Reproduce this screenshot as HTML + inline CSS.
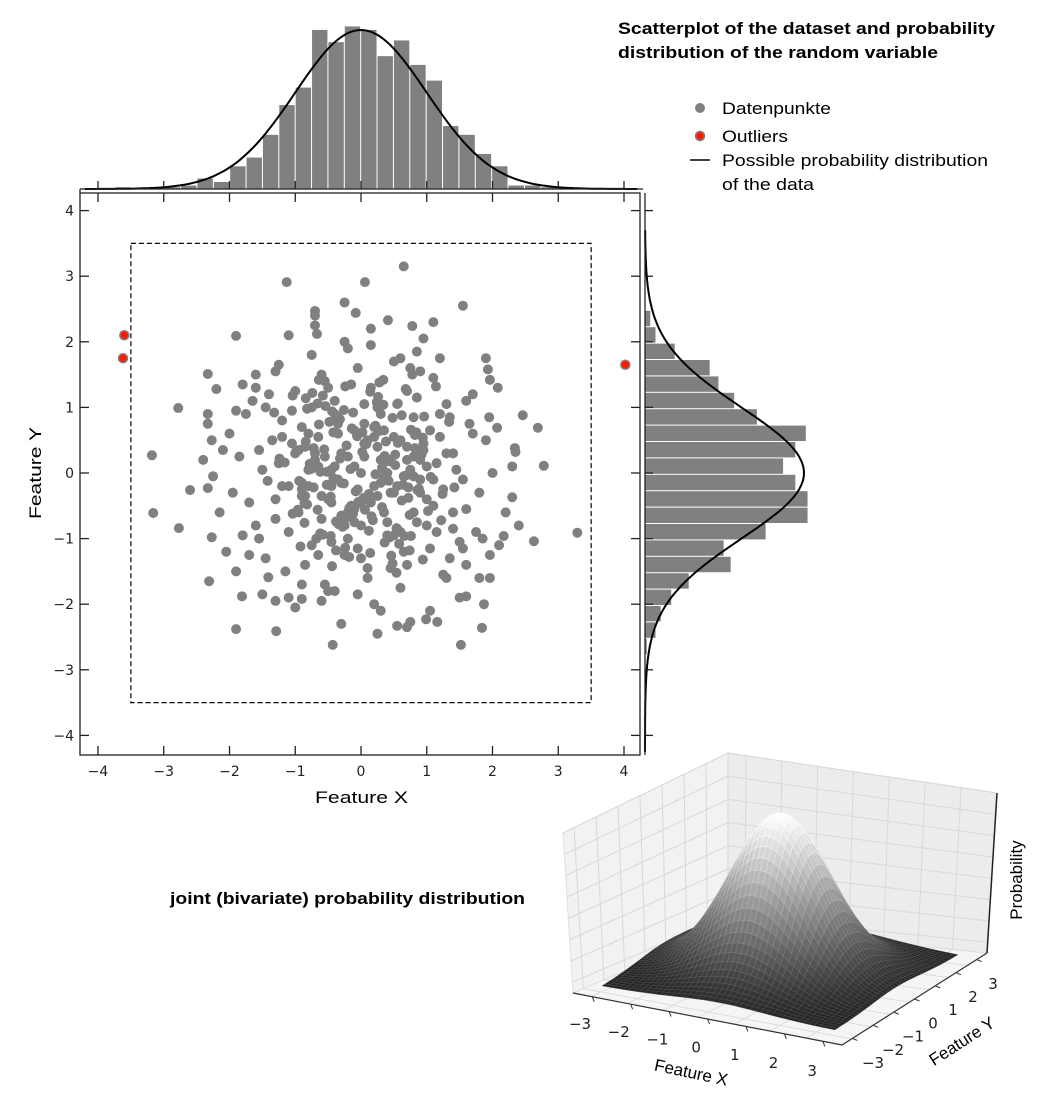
<!DOCTYPE html>
<html><head><meta charset="utf-8">
<style>
html,body{margin:0;padding:0;background:#fff;}
svg{display:block;font-family:"DejaVu Sans","Liberation Sans",sans-serif;}
.b{font-family:"Liberation Sans",sans-serif;font-weight:bold;font-size:17px;}
.h{font-family:"Liberation Sans",sans-serif;}
</style></head>
<body>
<svg id="fig" width="1052" height="1097" viewBox="0 0 1052 1097">
<g id="scatter"></g>
<g id="tophist"></g>
<g id="righthist"></g>
<g id="surf3d"></g>
<text class="b" x="618" y="34" textLength="377" lengthAdjust="spacingAndGlyphs">Scatterplot of the dataset and probability</text>
<text class="b" x="618" y="58" textLength="320" lengthAdjust="spacingAndGlyphs">distribution of the random variable</text>
<g font-size="17" class="h">
<circle cx="700" cy="108" r="5" fill="#808080"/>
<text x="722" y="114" textLength="109" lengthAdjust="spacingAndGlyphs">Datenpunkte</text>
<circle cx="700" cy="136" r="4.5" fill="#ff1a00" stroke="#808080" stroke-width="1.5"/>
<text x="722" y="142" textLength="66" lengthAdjust="spacingAndGlyphs">Outliers</text>
<line x1="690" y1="160" x2="710" y2="160" stroke="#000" stroke-width="1.5"/>
<text x="722" y="166" textLength="266" lengthAdjust="spacingAndGlyphs">Possible probability distribution</text>
<text x="722" y="190" textLength="92" lengthAdjust="spacingAndGlyphs">of the data</text>
</g>
<text class="b" x="170" y="904" textLength="355" lengthAdjust="spacingAndGlyphs">joint (bivariate) probability distribution</text>
</svg>
<script>
const NS="http://www.w3.org/2000/svg";
// ---- data ----
const xTicks=[-4,-3,-2,-1,0,1,2,3,4];
const yTicks=[-4,-3,-2,-1,0,1,2,3,4];
const histXStart=-3.74, histXWidth=0.249;
const histXCounts=[1,0,0,1,2,6,4,13,18,31,48,58,91,84,93,91,76,85,71,62,36,31,20,13,2,2,1];
const histYTop=2.48, histYWidth=0.25;
const histYCounts=[3,6,17,37,42,51,64,92,86,79,86,93,93,69,45,49,25,15,9,6,1];
const outlierX=[-3.6,-3.62,4.02];
const outlierY=[2.1,1.75,1.65];
const ptsX=[-1.13,0.06,0.65,1.55,-0.7,-0.08,0.41,0.78,-1.9,-0.67,-3.18,-2.78,-2.33,-2.33,-2.27,-2.33,-2.2,-3.16,-2.77,-2.6,-2.33,-2.27,-2.31,-2.05,-1.9,-1.29,-0.43,1.52,1.84,3.29,2.63,2.78,2.69,2.46,2.34,2.35,2.08,1.96,1.93,2.07,1.96,1.87,1.96,1.6,2.17,2.3,0.55,0.75,0.99,-1.41,-1.81,-0.9,1.16,
-0.1,0.2,-0.3,0.4,-0.5,0.6,-0.7,0.8,-0.9,1.0,0.0,0.3,-0.2,0.5,-0.4,0.7,-0.6,0.9,-0.8,1.1,
1.3,-1.2,0.15,-0.25,1.4,-1.35,0.45,-0.55,1.2,-1.1,0.05,-0.15,0.85,-0.95,1.55,-1.5,0.25,-0.35,0.65,-0.75,
-1.6,1.65,-0.05,0.1,-1.0,1.05,-1.45,1.5,0.35,-0.45,0.75,-0.85,1.25,-1.25,0.55,-0.65,0.95,-1.05,0.2,-0.3,
1.8,-1.85,0.6,-0.4,1.1,-1.15,0.3,-0.2,1.7,-1.7,0.0,0.5,-0.6,0.9,-1.3,1.35,-0.9,0.15,-0.1,0.8,
-0.35,0.45,-1.55,1.6,-0.75,0.7,-0.15,0.25,1.45,-1.4,0.85,-0.95,0.05,-0.05,1.9,-1.95,0.4,-0.5,1.0,-1.0,
0.65,-0.65,1.15,-1.2,0.25,-0.25,1.75,-1.75,0.55,-0.45,1.05,-0.85,0.35,-0.35,1.35,-1.55,0.75,-0.55,0.1,-0.15,
2.0,-2.0,0.2,-0.2,1.25,-1.3,0.6,-0.6,1.6,-1.6,0.9,-0.9,0.35,-0.45,1.85,-1.8,0.05,-0.1,0.45,-0.7,
0.3,-0.3,0.8,-0.8,0.1,-0.1,0.55,-0.55,1.15,-1.05,0.0,0.2,-0.4,0.6,-0.2,0.4,-0.6,0.7,-0.9,1.0,
-1.25,1.3,-0.25,0.3,-1.65,1.55,-0.75,0.85,-0.05,0.15,-1.1,1.2,-0.45,0.5,-0.85,0.95,-1.45,1.4,-0.65,0.7,
2.2,-2.15,1.95,-1.9,2.1,-2.1,1.05,-1.0,0.15,-0.3,0.95,-0.7,1.5,-1.5,0.4,-0.4,2.3,-2.25,0.8,-0.8,
0.12,-0.22,0.32,-0.42,0.52,-0.12,0.22,-0.32,0.42,-0.52,0.02,0.62,-0.62,0.72,-0.72,0.82,-0.82,0.18,-0.28,0.38,
-0.48,0.58,-0.58,0.68,-0.18,0.28,-0.38,0.48,-0.68,0.78,1.1,-1.1,1.2,-1.2,0.9,-0.9,1.4,-1.3,0.05,-0.05,
1.7,-1.7,1.6,-1.6,2.4,-2.4,1.3,-1.3,0.7,-0.7,1.9,-1.9,0.25,-0.25,1.1,-1.1,0.5,-0.5,1.8,-1.8,
0.08,-0.18,0.28,-0.38,0.48,-0.58,0.68,-0.78,0.88,-0.98,0.14,-0.24,0.34,-0.44,0.54,-0.64,0.74,-0.84,0.94,-0.04,
-1.16,1.06,-0.26,0.36,-0.46,0.56,-0.66,0.76,-0.86,0.96,-0.16,0.06,-0.36,0.26,-0.56,0.46,-0.76,0.66,-0.96,0.86,
1.22,-1.32,1.42,-1.42,0.02,0.12,-0.08,0.22,-0.12,0.32,-0.22,0.42,-0.32,0.52,-0.42,0.62,-0.52,0.72,-0.62,0.82,
-0.72,0.92,-0.82,1.02,-0.92,0.04,-0.14,0.24,-0.34,0.44,-0.54,0.64,-0.74,0.84,-0.94,1.24,-1.04,1.34,-1.24,0.14,
-0.24,0.34,-0.44,0.54,-0.64,0.74,-0.84,0.94,-1.04,1.14,0.0,-0.06,0.16,-0.26,0.36,-0.46,0.56,-0.66,0.76,-0.86];
const ptsY=[2.91,2.91,3.15,2.55,2.47,2.44,2.33,2.24,2.09,2.12,0.27,0.99,0.9,0.75,0.5,1.51,1.28,-0.61,-0.84,-0.26,-0.23,-0.98,-1.65,-1.2,-2.38,-2.41,-2.62,-2.62,-2.36,-0.91,-1.04,0.11,0.69,0.88,0.38,0.32,1.3,1.42,1.58,0.69,-1.6,-2.0,-1.25,-1.88,-0.96,-0.37,-2.33,-2.27,-2.23,-1.59,-1.88,-1.92,-2.27,
0.1,-0.2,0.3,0.0,-0.4,0.5,0.2,-0.6,0.7,0.1,-0.8,0.9,-1.0,-0.3,1.1,0.4,-0.7,-0.1,0.6,-0.5,
0.3,-0.2,1.3,-1.25,-0.6,0.5,-1.45,1.4,0.9,-0.9,0.45,-0.55,1.15,0.35,-0.1,0.05,-0.35,0.75,-1.2,1.0,
-0.8,0.75,1.6,-1.6,1.25,-1.15,1.0,-1.05,0.65,-0.2,0.05,-0.35,-0.25,0.15,-0.85,0.55,0.45,0.95,0.55,-0.65,
-0.3,0.25,1.75,-1.8,1.45,-1.5,-0.15,0.25,0.6,-0.45,-1.3,-0.95,1.5,0.2,-0.7,-1.3,-0.25,-0.45,0.65,0.85,
-0.1,0.2,0.35,-0.55,-1.1,1.25,-0.5,0.4,0.05,1.2,-0.75,-0.6,0.25,-0.25,0.5,-0.3,-0.95,1.3,-0.4,0.3,
-0.05,0.1,-0.9,0.8,1.0,-0.8,-0.9,0.9,1.05,-1.05,0.65,-1.4,-0.6,0.6,0.85,-1.0,1.6,-1.7,-1.45,1.35,
0.0,0.6,-2.0,1.9,-1.55,1.55,-1.75,-1.95,1.1,1.3,1.55,-1.7,-0.05,0.05,-1.0,-0.95,0.75,-0.75,-0.3,0.3,
0.2,-0.15,0.25,-0.2,0.5,-0.55,-0.2,0.25,0.15,0.45,0.0,0.7,0.9,-0.9,-0.6,-0.75,-0.35,0.2,-0.15,-0.8,
1.65,-1.6,2.0,-2.1,1.1,-1.15,1.8,1.85,-1.85,1.95,-1.9,1.75,-0.45,0.55,0.4,0.35,-1.3,-0.85,-1.25,-1.4,
-0.6,-0.6,0.85,0.95,-1.1,0.35,-2.1,-2.05,2.2,-2.3,2.05,2.25,-1.9,-1.85,-0.1,0.1,0.1,-0.05,-0.05,0.05,
-0.32,0.42,-0.52,0.62,0.12,-0.62,0.72,0.82,-0.12,0.02,0.32,-0.42,-0.92,-0.22,0.38,0.58,-0.48,-0.72,-0.82,0.48,
0.78,-1.08,1.18,1.28,-1.28,1.38,-1.18,-1.38,-1.0,1.5,-0.1,-0.2,0.55,0.55,-0.3,-0.35,0.3,-0.4,1.05,-1.15,
1.2,-1.25,-1.4,1.5,-0.8,0.2,1.05,-1.95,-2.35,2.4,1.75,-1.5,-2.45,2.6,2.3,2.1,1.7,-1.8,-1.6,1.35,
0.44,-0.54,0.64,-0.74,0.84,-0.94,-0.04,0.14,-0.24,0.34,1.24,-1.14,1.04,0.94,-0.84,0.74,-0.64,1.14,0.54,-0.44,
0.16,-0.06,-0.16,0.26,-0.36,0.46,-0.56,0.66,-0.76,0.86,0.06,-0.56,0.86,1.16,0.36,-1.26,0.06,-0.96,-0.56,-0.26,
-0.72,0.92,-0.22,-0.12,0.62,-0.88,-0.28,-0.02,0.92,0.08,-0.68,0.18,0.22,0.28,-0.08,0.88,-0.18,-0.38,0.02,0.38,
-0.22,0.28,0.98,-0.58,-1.12,-0.38,0.68,1.08,-0.78,-0.98,1.02,-0.18,1.22,0.62,-0.12,-0.32,-0.62,0.78,0.22,-1.22,
1.32,1.42,-1.42,-1.52,1.42,-1.18,0.48,-1.32,1.18,1.32,-0.46,0.56,-0.66,0.96,-1.06,-0.96,1.06,1.06,-0.96,-0.46];
const surfTicks=[-3,-2,-1,0,1,2,3];

// ---- helpers ----
function mk(tag,parent,attrs){const e=document.createElementNS(NS,tag);for(const k in attrs)e.setAttribute(k,attrs[k]);parent.appendChild(e);return e;}
const sx=v=>361+v*65.75, sy=v=>473-v*65.6;
const pdf=v=>Math.exp(-v*v/2)/Math.sqrt(2*Math.PI);
const cntPx=1.748, pdfPx=398.5;
const fmt=v=>v<0?"\u2212"+(-v):""+v;

// ---- scatter ----
const sc=document.getElementById('scatter');
let r=mk('rect',sc,{x:80,y:193,width:560,height:562,fill:'none',stroke:'#222','stroke-width':1.3});


let d=mk('rect',sc,{x:sx(-3.5),y:sy(3.5),width:sx(3.5)-sx(-3.5),height:sy(-3.5)-sy(3.5),fill:'none',stroke:'#000','stroke-width':1.2,'stroke-dasharray':'5,3'});


xTicks.forEach(t=>{
  const x=sx(t);
  let l=mk('line',sc,{x1:x,y1:755,x2:x,y2:746,stroke:'#222','stroke-width':1.3});
  
  
  mk('line',sc,{x1:x,y1:193,x2:x,y2:202,stroke:'#222','stroke-width':1.3});
  let tx=mk('text',sc,{x:x,y:776,'text-anchor':'middle','font-size':14,fill:'#222'});
  tx.textContent=fmt(t);
  
  
});
yTicks.forEach(t=>{
  const y=sy(t);
  let l=mk('line',sc,{x1:80,y1:y,x2:89,y2:y,stroke:'#222','stroke-width':1.3});
  
  
  mk('line',sc,{x1:631,y1:y,x2:640,y2:y,stroke:'#222','stroke-width':1.3});
  let tx=mk('text',sc,{x:74,y:y+5,'text-anchor':'end','font-size':14,fill:'#222'});
  tx.textContent=fmt(t);
  
  
});
let xl=mk('text',sc,{x:315,y:803,'font-size':17,'class':'h',textLength:93,lengthAdjust:'spacingAndGlyphs'});
xl.textContent='Feature X';


let yl=mk('text',sc,{x:-46,y:0,'font-size':17,'class':'h',textLength:92,lengthAdjust:'spacingAndGlyphs',transform:'translate(41,473) rotate(-90)'});
yl.textContent='Feature Y';


for(let i=0;i<ptsX.length;i++){
  let c=mk('circle',sc,{cx:sx(ptsX[i]),cy:sy(ptsY[i]),r:5,fill:'#808080'});
  
  
}
for(let i=0;i<outlierX.length;i++){
  let c=mk('circle',sc,{cx:sx(outlierX[i]),cy:sy(outlierY[i]),r:4.5,fill:'#ff1a00',stroke:'#808080','stroke-width':1.5});
  
  
}

// ---- top histogram ----
const th=document.getElementById('tophist');
const base=189;
histXCounts.forEach((c,i)=>{
  const x0=sx(histXStart+i*histXWidth), x1=sx(histXStart+(i+1)*histXWidth);
  const h=c*cntPx;
  let b=mk('rect',th,{x:x0+0.5,y:base-h,width:x1-x0-1,height:h,fill:'#808080'});
  
  
});
let pth='';
for(let v=-4.2;v<=4.21;v+=0.05){pth+=(pth?'L':'M')+sx(v).toFixed(1)+','+(base-pdf(v)*pdfPx).toFixed(1);}
let cv=mk('path',th,{d:pth,fill:'none',stroke:'#000','stroke-width':2});


mk('line',th,{x1:80,y1:base,x2:643,y2:base,stroke:'#222','stroke-width':1.3});
xTicks.forEach(t=>{mk('line',th,{x1:sx(t),y1:base,x2:sx(t),y2:base-8,stroke:'#222','stroke-width':1.3});});
mk('line',th,{x1:80,y1:base,x2:80,y2:193,stroke:'#222','stroke-width':1.3});

// ---- right histogram ----
const rh=document.getElementById('righthist');
const rb=645;
histYCounts.forEach((c,i)=>{
  const y0=sy(histYTop-i*histYWidth), y1=sy(histYTop-(i+1)*histYWidth);
  const w=c*cntPx;
  let b=mk('rect',rh,{x:rb,y:y0+0.5,width:w,height:y1-y0-1,fill:'#808080'});
  
  
});
let p2='';
for(let v=3.7;v>=-4.25;v-=0.05){p2+=(p2?'L':'M')+(rb+pdf(v)*pdfPx).toFixed(1)+','+sy(v).toFixed(1);}
let cv2=mk('path',rh,{d:p2,fill:'none',stroke:'#000','stroke-width':2});


mk('line',rh,{x1:rb,y1:193,x2:rb,y2:755,stroke:'#222','stroke-width':1.3});
yTicks.forEach(t=>{mk('line',rh,{x1:rb,y1:sy(t),x2:rb+8,y2:sy(t),stroke:'#222','stroke-width':1.3});});

// ---- 3D surface ----
const s3=document.getElementById('surf3d');
const L=[573,993],Bk=[728,927],F=[842,1045],R=[987,953];
const LT=[563,833],BT=[728,753],RT=[997,793];
const poly=(pts)=>pts.map(p=>p[0]+','+p[1]).join(' ');
const lerp=(a,b,t)=>[a[0]+(b[0]-a[0])*t,a[1]+(b[1]-a[1])*t];
let lp=mk('polygon',s3,{points:poly([L,Bk,BT,LT]),fill:'#f2f2f2',stroke:'#e0e0e0'});


let rp=mk('polygon',s3,{points:poly([Bk,R,RT,BT]),fill:'#ececec',stroke:'#e0e0e0'});


let fp=mk('polygon',s3,{points:poly([L,F,R,Bk]),fill:'#f5f5f5',stroke:'#e0e0e0'});


for(let i=0;i<=7;i++){
  const t=(i+0.5)/7.5;
  let a=lerp(L,Bk,t),b=lerp(LT,BT,t);
  mk('line',s3,{x1:a[0],y1:a[1],x2:b[0],y2:b[1],stroke:'#d8d8d8','stroke-width':1});
  a=lerp(L,LT,t);b=lerp(Bk,BT,t);
  mk('line',s3,{x1:a[0],y1:a[1],x2:b[0],y2:b[1],stroke:'#d8d8d8','stroke-width':1});
  a=lerp(Bk,R,t);b=lerp(BT,RT,t);
  mk('line',s3,{x1:a[0],y1:a[1],x2:b[0],y2:b[1],stroke:'#d8d8d8','stroke-width':1});
  a=lerp(Bk,BT,t);b=lerp(R,RT,t);
  mk('line',s3,{x1:a[0],y1:a[1],x2:b[0],y2:b[1],stroke:'#d8d8d8','stroke-width':1});
  a=lerp(L,F,t);b=lerp(Bk,R,t);
  mk('line',s3,{x1:a[0],y1:a[1],x2:b[0],y2:b[1],stroke:'#dddddd','stroke-width':1});
  a=lerp(L,Bk,t);b=lerp(F,R,t);
  mk('line',s3,{x1:a[0],y1:a[1],x2:b[0],y2:b[1],stroke:'#dddddd','stroke-width':1});
}
const P=(x,y,z)=>[780+29.1*x+15.4*y, 970.5+5.5*x-9.4*y-z*157];
const N=44, G=4, SD=1.55;
const quads=[];
for(let i=0;i<N;i++)for(let j=0;j<N;j++){
  const x0=-G+2*G*i/N,x1=-G+2*G*(i+1)/N,y0=-G+2*G*j/N,y1=-G+2*G*(j+1)/N;
  const z=(x,y)=>Math.exp(-(x*x+y*y)/(2*SD*SD));
  quads.push({k:((y0+y1)/2-(x0+x1)/2),pts:[P(x0,y0,z(x0,y0)),P(x1,y0,z(x1,y0)),P(x1,y1,z(x1,y1)),P(x0,y1,z(x0,y1))],zz:(z(x0,y0)+z(x1,y1)+z(x1,y0)+z(x0,y1))/4});
}
quads.sort((a,b)=>b.k-a.k);
const sg=mk('g',s3,{});


quads.forEach(q=>{
  const g=Math.round(35+q.zz*220);
  const ls=Math.min(255,g+40);
  mk('polygon',sg,{points:poly(q.pts.map(p=>[p[0].toFixed(1),p[1].toFixed(1)])),fill:`rgb(${g},${g},${g})`,stroke:`rgb(${ls},${ls},${ls})`,'stroke-width':0.35});
});
// axes
let ax=mk('line',s3,{x1:L[0],y1:L[1],x2:F[0],y2:F[1],stroke:'#333','stroke-width':1.2});


let ay=mk('line',s3,{x1:F[0],y1:F[1],x2:R[0],y2:R[1],stroke:'#333','stroke-width':1.2});


let az=mk('line',s3,{x1:R[0],y1:R[1],x2:RT[0],y2:RT[1],stroke:'#222','stroke-width':1.5});


surfTicks.forEach(t=>{
  const f=(t+3.5)/7;
  let a=lerp(L,F,f);
  mk('line',s3,{x1:a[0],y1:a[1],x2:a[0]+2,y2:a[1]+5,stroke:'#333'});
  let tx=mk('text',s3,{x:580+(t+3)*38.7,y:1029+(t+3)*7.8,'text-anchor':'middle','font-size':15,fill:'#222'});
  tx.textContent=fmt(t);
  
  
  let b=lerp(F,R,f);
  mk('line',s3,{x1:b[0],y1:b[1],x2:b[0]+5,y2:b[1]+2,stroke:'#333'});
  let ty=mk('text',s3,{x:873+(t+3)*20,y:1068-(t+3)*13.2,'text-anchor':'middle','font-size':15,fill:'#222'});
  ty.textContent=fmt(t);
  
  
});
let fx=mk('text',s3,{x:0,y:0,'text-anchor':'middle','font-size':17,'class':'h',transform:'translate(690,1078) rotate(12)'});
fx.textContent='Feature X';


let fy=mk('text',s3,{x:0,y:0,'text-anchor':'middle','font-size':17,'class':'h',transform:'translate(965,1046) rotate(-33)'});
fy.textContent='Feature Y';


let fz=mk('text',s3,{x:0,y:0,'text-anchor':'middle','font-size':17,'class':'h',transform:'translate(1022,880) rotate(-90)'});
fz.textContent='Probability';


</script>
</body></html>
